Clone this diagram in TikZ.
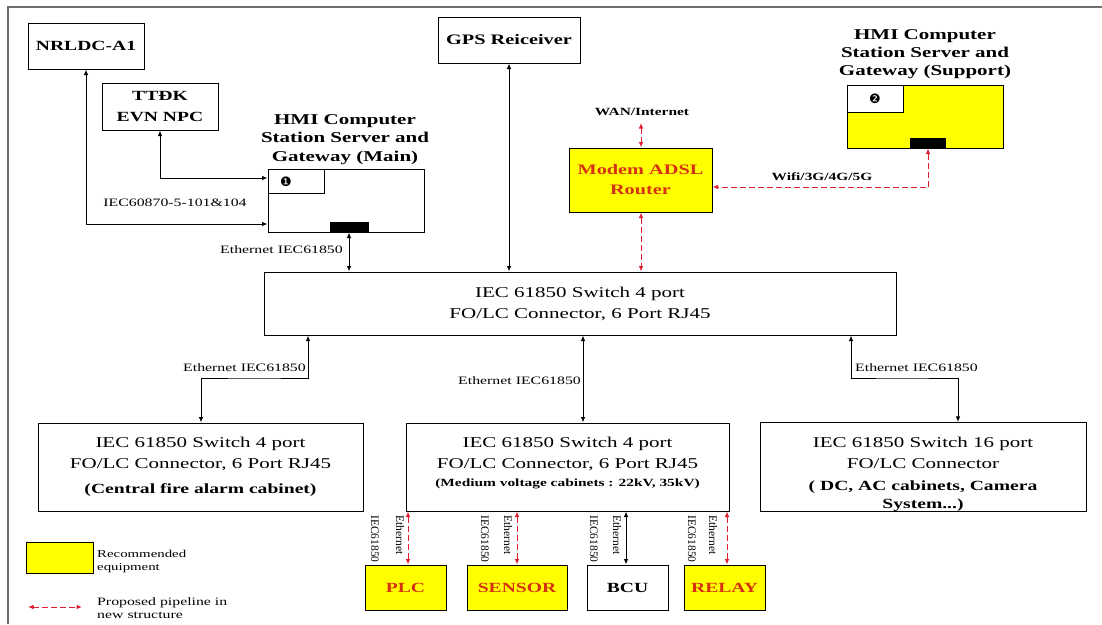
\documentclass[tikz,border=0pt]{standalone}
\usepackage{fontspec}
\setmainfont{Liberation Serif}[FakeStretch=1.4]
\newfontfamily\vertfont{Liberation Serif}
\newfontfamily\dingfont{DejaVu Sans}
\usetikzlibrary{arrows.meta,calc}
\definecolor{yel}{RGB}{255,255,0}
\definecolor{pred}{RGB}{222,30,45}
\definecolor{ptxt}{RGB}{215,50,15}
\definecolor{framegray}{RGB}{110,110,110}
\newcommand\setfs[2]{\fontsize{#1}{#2}\selectfont}
\tikzset{
  box/.style={draw=black, line width=1pt, inner sep=0pt, align=center, fill=white},
  ybox/.style={box, fill=yel},
  bar/.style={fill=black, draw=black, inner sep=0pt, minimum width=#1, minimum height=10},
  biarrow/.style={line width=1pt, {Latex[length=5.5pt,width=4.5pt]}-{Latex[length=5.5pt,width=4.5pt]}},
  redarrow/.style={biarrow, draw=pred, dash pattern=on 6pt off 3pt},
  slbl/.style={inner sep=0pt, font=\setfs{11.3}{13}},
  blbl/.style={inner sep=0pt, font=\bfseries\setfs{11}{13}},
  vlbl/.style={inner sep=0pt, rotate=-90, font=\vertfont\setfs{11.5}{13}},
  hdr/.style={inner sep=0pt, align=center, font=\bfseries\setfs{15}{18.3}},
  swtxt/.style={font=\setfs{15}{21}},
  dev/.style={minimum width=81, minimum height=45, font=\bfseries\setfs{14}{16}},
}
\begin{document}
\begin{tikzpicture}[x=1pt,y=-1pt]
\useasboundingbox (0,0) rectangle (1102,624);
\fill[white] (0,0) rectangle (1102,624);
% page frame
\draw[framegray, line width=1.6pt] (8,624) -- (8,7) -- (1102,7);

% ---- top row ----
\node[box, minimum width=116, minimum height=46, font=\bfseries\setfs{14}{17}] (nrldc) at (86,46) {NRLDC-A1};
\node[box, minimum width=116, minimum height=47, font=\bfseries\setfs{14}{21}] (ttdk) at (160,106.5) {TTĐK\\EVN NPC};

\node[hdr] (hmilbl) at (345,139.5) {HMI Computer\\Station Server and\\Gateway (Main)};
\node[box, minimum width=156, minimum height=63] (hmi) at (346,200.5) {};
\node[box, minimum width=56, minimum height=24, anchor=north west] (hmiid) at (hmi.north west) {};
\node[inner sep=0pt, font=\dingfont\setfs{13}{13}] (n1) at (286,181.5) {❶};
\node[bar=38, anchor=south] (hmibar) at (hmi.south -| 349,0) {};

\node[box, minimum width=142, minimum height=46, font=\bfseries\setfs{14.5}{17}] (gps) at (509,40) {GPS Reiceiver};

\node[blbl] (wan) at (642,112) {WAN/Internet};
\coordinate (wanpt) at (641,123);
\node[ybox, minimum width=143, minimum height=64, text=ptxt, font=\bfseries\setfs{14.5}{20}] (modem) at (640.5,180) {Modem ADSL\\Router};

\node[hdr] (suplbl) at (925,54) {HMI Computer\\Station Server and\\Gateway (Support)};
\node[ybox, minimum width=156, minimum height=63] (sup) at (925,116.5) {};
\node[box, minimum width=56, minimum height=27, anchor=north west] (supid) at (sup.north west) {};
\node[inner sep=0pt, font=\dingfont\setfs{13}{13}] (n2) at (875,99) {❷};
\node[bar=35, anchor=south] (supbar) at (sup.south -| 928,0) {};
\node[blbl] (wifi) at (822,177) {Wifi/3G/4G/5G};

% ---- main switch ----
\node[box, minimum width=632, minimum height=63, swtxt] (sw0) at (580,303.5) {IEC 61850 Switch 4 port\\FO/LC Connector, 6 Port RJ45};

% ---- second row switches ----
\node[box, minimum width=325, minimum height=88, swtxt] (sw1) at (200.5,467)
  {IEC 61850 Switch 4 port\\FO/LC Connector, 6 Port RJ45\\[4pt]{\bfseries\setfs{14}{16}(Central fire alarm cabinet)}};
\node[box, minimum width=323, minimum height=88, swtxt] (sw2) at (567.5,467)
  {IEC 61850 Switch 4 port\\FO/LC Connector, 6 Port RJ45\\[-3pt]{\bfseries\setfs{11}{13}(Medium voltage cabinets : 22kV, 35kV)\rule[-11pt]{0pt}{1pt}}};
\node[box, minimum width=326, minimum height=88, swtxt] (sw3) at (923,467)
  {\rule{0pt}{25pt}IEC 61850 Switch 16 port\\FO/LC Connector\\[1pt]{\bfseries\setfs{14}{16}( DC, AC cabinets, Camera}\\[-3pt]{\bfseries\setfs{14}{16}System...)}};

% ---- devices ----
\node[ybox, dev, text=ptxt] (plc) at (405.5,587.5) {PLC};
\node[ybox, dev, minimum width=100, text=ptxt] (sensor) at (517,587.5) {SENSOR};
\node[box, dev] (bcu) at (627.5,587.5) {BCU};
\node[ybox, dev, text=ptxt] (relay) at (724.5,587.5) {RELAY};

% ---- legend ----
\node[ybox, minimum width=67, minimum height=31, line width=0.7pt] (legbox) at (59.5,557.5) {};
\node[anchor=west, align=left, inner sep=0pt, font=\setfs{10.6}{13}] (legtxt1) at (97,561) {Recommended\\equipment};
\coordinate (lega) at (28,607);
\coordinate (legb) at (82,607);
\draw[redarrow] (lega) -- (legb);
\node[anchor=west, align=left, inner sep=0pt, font=\setfs{11.3}{13}] (legtxt2) at (97,608) {Proposed pipeline in\\new structure};

% ---- connectors top ----
\draw[biarrow] (ttdk.south) |- (hmi.west |- 0,178);
\draw[biarrow] (nrldc.south) |- (hmi.west |- 0,224);
\node[slbl] (iec608) at (175,203) {IEC60870-5-101\&104};
\draw[biarrow] (hmibar.south) -- (sw0.north -| hmibar.south);
\node[slbl, anchor=east] (eth0) at (343,250) {Ethernet IEC61850};
\draw[biarrow] (gps.south) -- (sw0.north -| gps.south);
\draw[redarrow] (modem.north -| wanpt) -- (wanpt);
\draw[redarrow] (modem.south -| wanpt) -- (sw0.north -| wanpt);
\draw[redarrow] (supbar.south) |- (modem.east |- 0,187);

% ---- connectors middle ----
\draw[biarrow] (sw0.south -| 308,0) |- (254,378) -| (sw1.north -| 201,0);
\node[slbl, anchor=east] (eth1) at (306,368) {Ethernet IEC61850};
\draw[biarrow] (sw0.south -| 583,0) -- (sw2.north -| 583,0);
\node[slbl, anchor=east] (eth2) at (581,381) {Ethernet IEC61850};
\draw[biarrow] (sw0.south -| 851,0) |- (900,378) -| (sw3.north -| 958,0);
\node[slbl, anchor=west] (eth3) at (855,368) {Ethernet IEC61850};

% ---- connectors bottom ----
\draw[redarrow] (sw2.south -| 408,0) -- (plc.north -| 408,0);
\draw[redarrow] (sw2.south -| sensor.north) -- (sensor.north);
\draw[biarrow] (sw2.south -| 626,0) -- (bcu.north -| 626,0);
\draw[redarrow] (sw2.south -| 727,0) -- (relay.north -| 727,0);
\foreach \x/\n in {375/a,485/b,594/c,692/d}{
  \node[vlbl] (iecv\n) at (\x,539) {IEC61850};
}
\foreach \x/\n in {400/a,508/b,617/c,713/d}{
  \node[vlbl] (ethv\n) at (\x,535) {Ethernet};
}
\end{tikzpicture}
\end{document}
